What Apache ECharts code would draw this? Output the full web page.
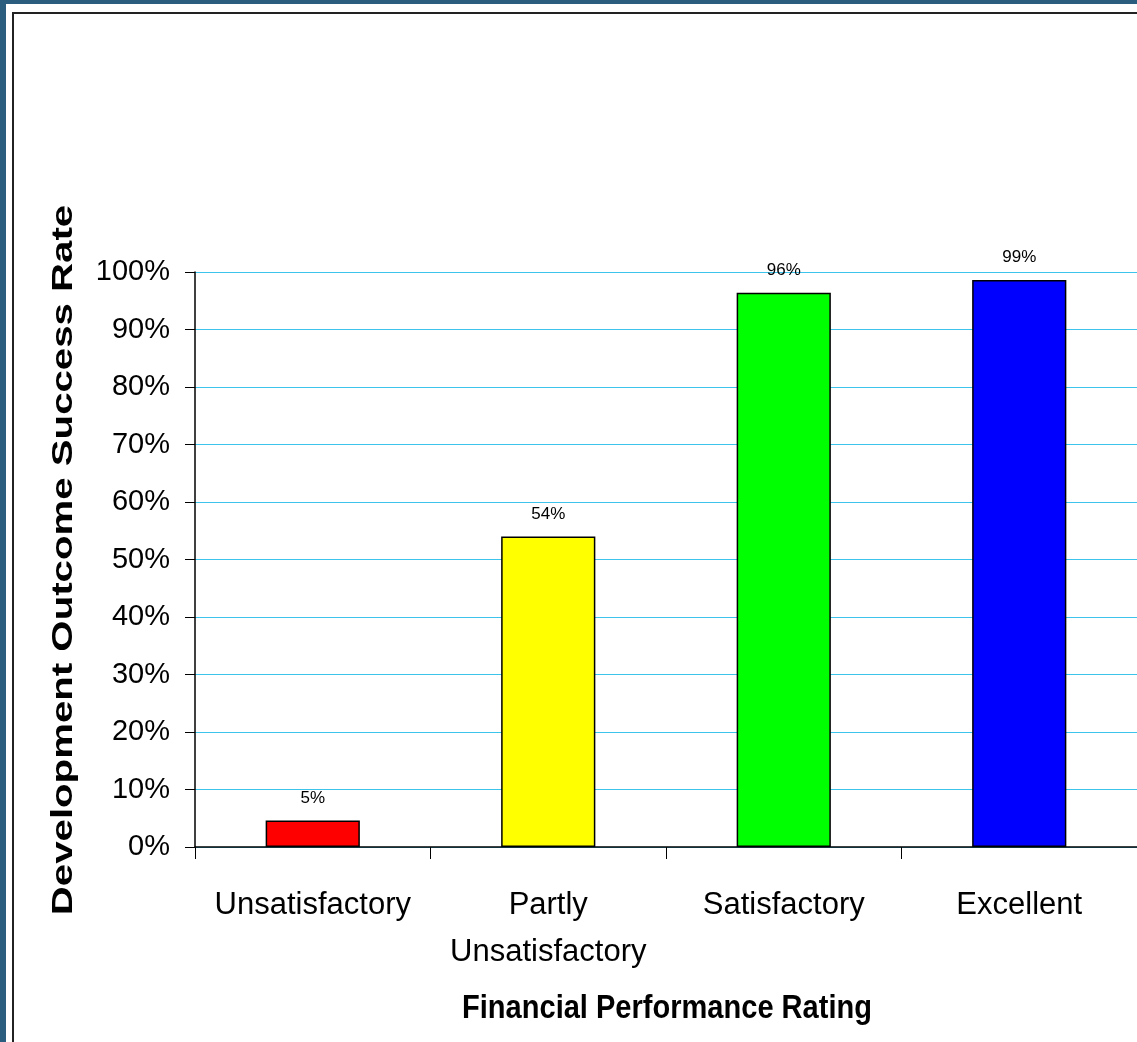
<!DOCTYPE html>
<html>
<head>
<meta charset="utf-8">
<script src="https://cdn.jsdelivr.net/npm/echarts@6/dist/echarts.min.js"></script>
<style>
html,body{margin:0;padding:0;background:#fff;}
#chart{width:1137px;height:1042px;}
</style>
</head>
<body>
<div id="chart"></div>
<script>
var categories = ['Unsatisfactory', 'Partly\nUnsatisfactory', 'Satisfactory', 'Excellent'];
var successRates = [4.6, 54.0, 96.4, 98.6];
var barColors = ['#FF0000', '#FFFF00', '#00FF00', '#0000FF'];
var yTickLabels = ['0%','10%','20%','30%','40%','50%','60%','70%','80%','90%','100%'];
var xTitle = 'Financial Performance Rating';
var yTitle = 'Development Outcome Success Rate';

var ARIAL = "'Liberation Sans', Arial, sans-serif";

var chart = echarts.init(document.getElementById('chart'), null, {renderer: 'canvas'});
chart.setOption({
  animation: false,
  backgroundColor: '#ffffff',
  graphic: [
    {type: 'rect', z: -10, shape: {x: 0, y: 0, width: 1137, height: 4}, style: {fill: '#2B5E7E'}},
    {type: 'rect', z: -10, shape: {x: 0, y: 0, width: 6, height: 1042}, style: {fill: '#2B5E7E'}},
    {type: 'rect', z: -9, shape: {x: 13, y: 13, width: 1140, height: 1040}, style: {fill: 'none', stroke: '#222', lineWidth: 2}},
    {type: 'text', x: 64, y: 560, rotation: Math.PI / 2, scaleX: 1.34, scaleY: 1,
     style: {text: yTitle, x: 0, y: 0, align: 'center', verticalAlign: 'middle',
             font: 'bold 30px ' + ARIAL, fill: '#000'}},
    {type: 'text', x: 667, y: 1009, scaleX: 0.88, scaleY: 1,
     style: {text: xTitle, x: 0, y: 0, align: 'center', verticalAlign: 'middle',
             font: 'bold 33px ' + ARIAL, fill: '#000'}}
  ],
  grid: {left: 195, top: 272, width: 944, bottom: 195, containLabel: false},
  xAxis: {
    type: 'category',
    data: categories,
    boundaryGap: true,
    axisLine: {show: true, lineStyle: {color: '#000', width: 1.5}},
    axisTick: {show: true, length: 12, alignWithLabel: false, lineStyle: {color: '#000', width: 1}},
    axisLabel: {color: '#000', fontFamily: ARIAL, fontSize: 31, lineHeight: 47, margin: 35, interval: 0}
  },
  yAxis: {
    type: 'value',
    min: 0, max: 100, interval: 10,
    axisLine: {show: true, lineStyle: {color: '#000', width: 1.5}},
    axisTick: {show: true, length: 10, inside: false, lineStyle: {color: '#000'}},
    axisLabel: {color: '#000', fontFamily: ARIAL, fontSize: 29, margin: 25,
                formatter: function (v) { return yTickLabels[Math.round(v / 10)]; }},
    splitLine: {show: true, lineStyle: {color: '#3CC4EC', width: 1}}
  },
  series: [{
    type: 'bar',
    barWidth: '40%',
    data: successRates.map(function (v, i) {
      return {value: v, itemStyle: {color: barColors[i]}};
    }),
    itemStyle: {borderColor: '#000', borderWidth: 1.5},
    label: {show: true, position: 'top', distance: 14, color: '#000', fontFamily: ARIAL, fontSize: 17,
            formatter: function (p) { return Math.round(p.value) + '%'; }}
  }]
});
</script>
</body>
</html>
